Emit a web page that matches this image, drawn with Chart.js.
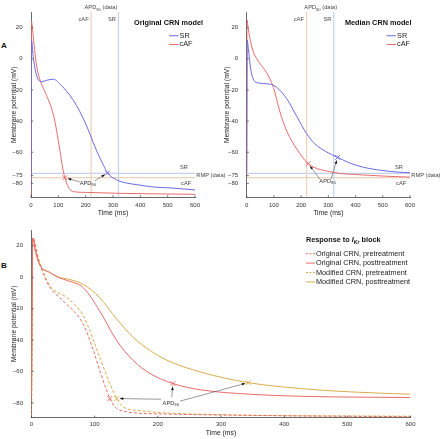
<!DOCTYPE html>
<html>
<head>
<meta charset="utf-8">
<script src="https://cdn.jsdelivr.net/npm/chart.js@4.4.1/dist/chart.umd.min.js"></script>
<style>
  body { margin: 0; background: #fff; width: 440px; height: 439px; position: relative; overflow: hidden;
         font-family: "Liberation Sans", Arial, sans-serif; }
  canvas { position: absolute; }
  .tag { position: absolute; font-weight: bold; font-size: 8px; color: #111; }
</style>
</head>
<body>
<div class="tag" style="left:1px;top:41px">A</div>
<div class="tag" style="left:1px;top:261px">B</div>
<canvas id="origChart" width="232" height="222" style="left:0;top:0;width:232px;height:222px"></canvas>
<canvas id="medChart" width="226" height="222" style="left:214px;top:0;width:226px;height:222px"></canvas>
<canvas id="blockChart" width="440" height="221" style="left:0;top:218px;width:440px;height:221px"></canvas>
<script>
  // ticks
  const timeTicks = [0, 100, 200, 300, 400, 500, 600];
  const vTicksA = [-80, -75, -60, -40, -20, 0, 20];
  const vTicksB = [-80, -60, -40, -20, 0, 20];

  // measured data (reference lines)
  const apdDataSR = 320, apdDataCAF = 220;
  const rmpDataSR = -73.6, rmpDataCAF = -76.3;

  // A: original CRN model
  const tOrigSR = [0, 2, 8, 21, 39, 57, 82, 112, 131, 155, 179, 204, 216, 240, 265, 280, 313, 350, 387, 447, 509, 600];
  const vOrigSR = [-84, 12, 1.5, -11, -14.7, -13.8, -13.1, -17.3, -21, -26.6, -34, -43.3, -48.5, -59, -68.3, -73.3, -77.7, -79.8, -80.8, -82.3, -82.9, -84.2];
  const tOrigAF = [0, 1.5, 8.5, 14.6, 23, 35, 57, 82, 94, 106, 115, 124, 137, 156, 204, 326, 600];
  const vOrigAF = [-87, 24, 14, 3.6, -6.9, -14.6, -23.5, -36, -46.4, -59, -69.4, -76.3, -82.5, -85.3, -85.8, -86.4, -87];
  const apdOrigSR = [280, -73.3];
  const apdOrigAF = [124, -76.3];

  // A: median CRN model
  const tMedSR = [0, 2, 6, 15, 24, 37, 86, 110, 147, 184, 220, 250, 290, 334, 380, 428, 526, 600];
  const vMedSR = [-73, 12, 6.7, -6.9, -13, -15.2, -16.3, -18.3, -25.6, -37, -48, -54.5, -59.5, -63.3, -67, -69.6, -72.3, -73.2];
  const tMedAF = [0, 1, 6, 12, 24, 43, 73, 98, 122, 147, 184, 226, 306, 428, 600];
  const vMedAF = [-76, 25, 19, 13, 4.6, -1.6, -8.9, -18.3, -34, -46.4, -57.9, -67.3, -72.5, -74.6, -76];
  const apdMedSR = [334, -63.3];
  const apdMedAF = [226, -67.3];

  // B: response to IKr block
  const tOrigPre = [0, 2, 11, 21, 30, 50, 82, 98, 108, 119, 124, 132, 151, 214, 400, 600];
  const vOrigPre = [-88.5, 25, 11, 0, -7, -15, -29.9, -46.7, -59.3, -72, -77.2, -82.5, -85.7, -87.1, -88.2, -88.8];
  const tOrigPost = [0, 2, 6, 13, 29, 45, 56, 82, 108, 135, 161, 188, 224, 268, 347, 426, 600];
  const vOrigPost = [-76.6, 25, 17, 8, 3, -0.5, -2, -6.7, -21.5, -40.4, -53, -61.4, -67.7, -71.7, -74.5, -75.8, -76.6];
  const tModPre = [0, 2, 11, 21, 30, 56, 82, 108, 124, 135, 145, 172, 300, 600];
  const vModPre = [-88.5, 25, 12, 1, -6, -13, -24.6, -51, -67.7, -77.2, -82.5, -85, -87.5, -88.5];
  const tModPost = [0, 2, 6, 13, 29, 45, 56, 82, 108, 135, 161, 188, 214, 268, 343, 426, 505, 600];
  const vModPost = [-74.5, 25, 17, 8, 3, -0.3, -1, -4.6, -13, -26.7, -38.3, -46.7, -52.8, -60.4, -67.1, -70.9, -73, -74.5];
  const apdOrigPre = [124, -77.2];
  const apdModPre = [135, -77.2];
  const apdOrigPost = [224, -67.7];
  const apdModPost = [343, -67.1];

  const blue = '#6a6ae0', red = '#ea6b6b', gold = '#dbac4a';
  const refSR = '#c4d0ea', refAF = '#ecd2bc';
  const fontFam = '"Liberation Sans", Arial, sans-serif';
  Chart.defaults.font.family = fontFam;

  const pts = (ts, vs) => ts.map((t, i) => ({ x: t, y: vs[i] }));
  const curve = (label, ts, vs, color, dash) => ({
    label, data: pts(ts, vs), borderColor: color, borderWidth: 1, borderDash: dash || [],
    pointRadius: 0, cubicInterpolationMode: 'monotone', fill: false
  });
  const mark = (p, color) => ({
    data: [{ x: p[0], y: p[1] }], showLine: false, pointStyle: 'crossRot', pointRadius: 3.3,
    pointBorderWidth: 1, borderColor: color, backgroundColor: color
  });
  const vline = (t, lo, hi, color) => ({
    data: [{ x: t, y: lo }, { x: t, y: hi }], borderColor: color, borderWidth: 1.2, pointRadius: 0, order: 10
  });
  const hline = (v, color) => ({
    data: [{ x: 0, y: v }, { x: 600, y: v }], borderColor: color, borderWidth: 1.2, pointRadius: 0, order: 10
  });

  // rich text pieces
  const txt = (t, size, bold, italic) => ({ t, size: size || 5.7, bold, italic });
  const sub = (t, size, bold, italic) => ({ t, size: size || 4.2, bold, italic, dy: 1.8 });
  const fnt = p => `${p.italic ? 'italic ' : ''}${p.bold ? 'bold ' : ''}${p.size}px ${fontFam}`;

  function drawRich(ctx, parts, x, y, align, color) {
    let total = 0;
    parts.forEach(p => { ctx.font = fnt(p); p.w = ctx.measureText(p.t).width; total += p.w; });
    let cx = align === 'right' ? x - total : align === 'center' ? x - total / 2 : x;
    ctx.fillStyle = color || '#444';
    ctx.textBaseline = 'middle';
    ctx.textAlign = 'left';
    parts.forEach(p => { ctx.font = fnt(p); ctx.fillText(p.t, cx, y + (p.dy || 0)); cx += p.w; });
  }

  function drawArrow(ctx, x1, y1, x2, y2) {
    const a = Math.atan2(y2 - y1, x2 - x1);
    const ex = x2 - 3 * Math.cos(a), ey = y2 - 3 * Math.sin(a);
    ctx.strokeStyle = '#555';
    ctx.lineWidth = 0.6;
    ctx.beginPath(); ctx.moveTo(x1, y1); ctx.lineTo(ex, ey); ctx.stroke();
    ctx.fillStyle = '#111';
    ctx.beginPath();
    ctx.moveTo(ex, ey);
    ctx.lineTo(ex - 3.5 * Math.cos(a) + 1.3 * Math.sin(a), ey - 3.5 * Math.sin(a) - 1.3 * Math.cos(a));
    ctx.lineTo(ex - 3.5 * Math.cos(a) - 1.3 * Math.sin(a), ey - 3.5 * Math.sin(a) + 1.3 * Math.cos(a));
    ctx.closePath(); ctx.fill();
  }

  const notesPlugin = {
    id: 'notes',
    afterDraw(chart, args, opts) {
      const ctx = chart.ctx, xs = chart.scales.x, ys = chart.scales.y, area = chart.chartArea;
      const px = t => xs.getPixelForValue(t), py = v => ys.getPixelForValue(v);
      ctx.save();
      // inward tick marks, matlab style
      ctx.strokeStyle = '#444'; ctx.lineWidth = 0.7;
      xs.ticks.forEach(tk => {
        const x = px(tk.value);
        ctx.beginPath(); ctx.moveTo(x, area.bottom); ctx.lineTo(x, area.bottom - 2.2); ctx.stroke();
      });
      ys.ticks.forEach(tk => {
        const y = py(tk.value);
        ctx.beginPath(); ctx.moveTo(area.left, y); ctx.lineTo(area.left + 2.2, y); ctx.stroke();
      });
      (opts.arrows || []).forEach(a => drawArrow(ctx, px(a.from[0]), py(a.from[1]), px(a.to[0]), py(a.to[1])));
      (opts.texts || []).forEach(n => drawRich(ctx, n.parts, px(n.at[0]) + (n.dx || 0), py(n.at[1]), n.align, n.color));
      const lg = opts.legend;
      if (lg) {
        lg.items.forEach((idx, k) => {
          const ds = chart.data.datasets[idx];
          const x0 = px(lg.at[0]), y0 = py(lg.at[1] + k * lg.step);
          ctx.strokeStyle = ds.borderColor; ctx.lineWidth = 1;
          ctx.setLineDash(ds.borderDash.length ? [2, 1.5] : []);
          ctx.beginPath(); ctx.moveTo(x0, y0); ctx.lineTo(x0 + lg.len, y0); ctx.stroke();
          ctx.setLineDash([]);
          drawRich(ctx, [txt(ds.label, lg.size)], x0 + lg.len + 1, y0, 'left', '#222');
        });
      }
      ctx.restore();
    }
  };
  Chart.register(notesPlugin);

  function axes(ymin, ymax, yTicks, yWidth, yTitlePad, xHeight, xTickPad, xTitlePad) {
    return {
      x: {
        type: 'linear', min: 0, max: 600,
        afterBuildTicks: s => { s.ticks = timeTicks.map(v => ({ value: v })); },
        afterFit: s => { s.height = xHeight; },
        ticks: { font: { size: 6 }, color: '#333', padding: xTickPad, maxRotation: 0 },
        grid: { display: false, drawTicks: false },
        border: { color: '#444', width: 0.8 },
        title: { display: true, text: 'Time (ms)', font: { size: 6.8 }, color: '#222', padding: { top: 0, bottom: xTitlePad } }
      },
      y: {
        type: 'linear', min: ymin, max: ymax,
        afterBuildTicks: s => { s.ticks = yTicks.map(v => ({ value: v })); },
        afterFit: s => { s.width = yWidth; },
        ticks: { font: { size: 6 }, color: '#333', padding: 8.5,
                 callback: v => v < 0 ? '\u2212' + Math.abs(v) : String(v) },
        grid: { display: false, drawTicks: false },
        border: { color: '#444', width: 0.8 },
        title: { display: true, text: 'Membrane potential (mV)', font: { size: 6.8 }, color: '#222',
                 padding: { top: yTitlePad, bottom: 0 } }
      }
    };
  }

  function baseOptions(scales, padding, notes) {
    return {
      responsive: false, animation: false, events: [],
      layout: { padding },
      scales,
      plugins: { legend: { display: false }, tooltip: { enabled: false }, notes }
    };
  }

  const apdLabel = [txt('APD'), sub('90')];
  const apdDataLabel = [txt('APD'), sub('90'), txt(' (data)')];

  function panelA(canvasId, title, titleAt, srT, srV, afT, afV, apdSR, apdAF, yWidth, yTitlePad, right,
                  topMid, labelAt, tailAF, tailSR, legendAt) {
    new Chart(document.getElementById(canvasId), {
      type: 'line',
      data: {
        datasets: [
          curve('SR', srT, srV, blue),
          curve('cAF', afT, afV, red),
          mark(apdSR, blue),
          mark(apdAF, red),
          vline(apdDataCAF, -89, 30, refAF),
          vline(apdDataSR, -89, 30, refSR),
          hline(rmpDataSR, refSR),
          hline(rmpDataCAF, refAF)
        ]
      },
      options: baseOptions(
        axes(-89, 30, vTicksA, yWidth, yTitlePad, 24.6, 4, 4.6),
        { left: 0, right, top: 7, bottom: 0 },
        {
          texts: [
            { at: titleAt, parts: [txt(title, 7.3, true)], align: 'left', color: '#111' },
            { at: [topMid, 32.9], parts: apdDataLabel, align: 'center' },
            { at: [apdDataCAF, 25.4], parts: [txt('cAF')], align: 'right', dx: -2.5 },
            { at: [apdDataSR, 25.4], parts: [txt('SR')], align: 'right', dx: -2.5 },
            { at: [574, -69.8], parts: [txt('SR')], align: 'right' },
            { at: [586, -80.2], parts: [txt('cAF')], align: 'right' },
            { at: [605, -74.7], parts: [txt('RMP (data)')], align: 'left' },
            { at: labelAt, parts: apdLabel, align: 'center', color: '#333' }
          ],
          arrows: [{ from: tailAF, to: apdAF }, { from: tailSR, to: apdSR }],
          legend: { at: legendAt, step: -5.6, len: 9.5, size: 7.3, items: [0, 1] }
        })
    });
  }

  panelA('origChart', 'Original CRN model', [377, 23], tOrigSR, vOrigSR, tOrigAF, vOrigAF, apdOrigSR, apdOrigAF,
         31, 9.9, 37, 256, [208, -79.8], [179, -79.1], [234, -78.3], [505, 14.8]);
  panelA('medChart', 'Median CRN model', [361, 23], tMedSR, vMedSR, tMedAF, vMedAF, apdMedSR, apdMedAF,
         32.7, 8.9, 30, 272, [297, -78.8], [269, -77.3], [310, -77.3], [514, 14.8]);

  new Chart(document.getElementById('blockChart'), {
    type: 'line',
    data: {
      datasets: [
        curve('Original CRN, pretreatment', tOrigPre, vOrigPre, red, [3, 2]),
        curve('Original CRN, posttreatment', tOrigPost, vOrigPost, red),
        curve('Modified CRN, pretreatment', tModPre, vModPre, gold, [3, 2]),
        curve('Modified CRN, posttreatment', tModPost, vModPost, gold),
        mark(apdOrigPre, red),
        mark(apdOrigPost, red),
        mark(apdModPre, gold),
        mark(apdModPost, gold)
      ]
    },
    options: baseOptions(
      axes(-89.5, 30, vTicksB, 31.5, 9.9, 21.2, 2.9, 1.4),
      { left: 0, right: 29.5, top: 10.5, bottom: 0 },
      {
        texts: [
          { at: [434.5, 23.4], color: '#111', align: 'left',
            parts: [txt('Response to ', 7.3, true), txt('I', 7.3, true, true), sub('Kr', 5.2, true, true), txt(' block', 7.3, true)] },
          { at: [220.5, -80.4], parts: apdLabel, align: 'center', color: '#333' }
        ],
        arrows: [
          { from: [205, -77.7], to: apdModPre },
          { from: [222, -76.4], to: apdOrigPost },
          { from: [235, -78.9], to: apdModPost }
        ],
        legend: { at: [434.5, 15], step: -6, len: 9, size: 7.3, items: [0, 1, 2, 3] }
      })
  });
</script>
</body>
</html>
